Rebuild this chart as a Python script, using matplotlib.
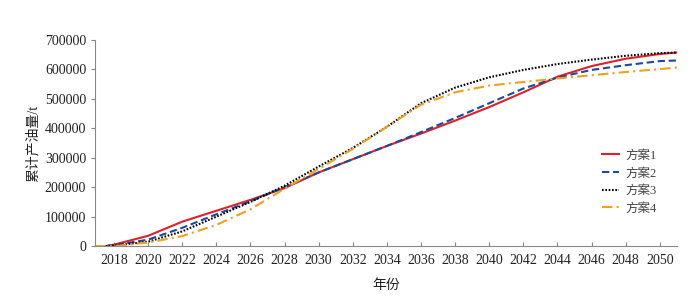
import matplotlib
matplotlib.use("Agg")
import matplotlib.pyplot as plt

plt.rcParams['font.family'] = ['Liberation Serif', 'Noto Sans CJK SC']
plt.rcParams['axes.unicode_minus'] = False

# Cumulative oil production per scheme
years = [2017.5, 2018, 2020, 2022, 2024, 2026, 2028, 2030, 2032, 2034,
         2036, 2038, 2040, 2042, 2044, 2046, 2048, 2050, 2051]
years_s4 = [2016.9, 2018, 2020, 2022, 2024, 2026, 2028, 2030, 2032, 2034,
            2036, 2038, 2040, 2042, 2044, 2046, 2048, 2050, 2051]

scheme1 = [0, 5000, 35000, 83000, 120000, 157000, 197000, 250000, 295000, 340000,
           382000, 426000, 472000, 522000, 575000, 611000, 636000, 652000, 657000]
scheme2 = [0, 3000, 22000, 62000, 108000, 152000, 200000, 250000, 295000, 340000,
           387000, 435000, 485000, 535000, 572000, 598000, 614000, 628000, 630000]
scheme3 = [0, 2000, 15000, 50000, 100000, 150000, 205000, 270000, 333000, 405000,
           485000, 538000, 573000, 598000, 618000, 633000, 646000, 655000, 657000]
scheme4 = [0, 0, 12000, 34000, 72000, 125000, 195000, 262000, 330000, 405000,
           480000, 522000, 545000, 557000, 569000, 580000, 591000, 601000, 606000]

labels = ["方案1", "方案2", "方案3", "方案4"]
xticks = list(range(2018, 2051, 2))

fig = plt.figure(figsize=(7, 3.02), dpi=100)
ax = fig.add_axes([0.136, 0.185, 0.831, 0.683])

ax.plot(years, scheme1, color="#e0202a", linestyle="-", linewidth=1.5, label=labels[0])
ax.plot(years, scheme2, color="#1a4a9a", linestyle=(0, (3.5, 1.8)), linewidth=1.5, label=labels[1])
ax.plot(years, scheme3, color="black", linestyle=(0, (0.8, 0.8)), linewidth=1.5, label=labels[2])
ax.plot(years_s4, scheme4, color="#f0a020", linestyle=(0, (5, 2, 1, 2)), linewidth=1.5, label=labels[3])

ax.set_xlim(2016.9, 2051)
ax.set_ylim(0, 700000)
ax.set_xticks(xticks)
ax.set_yticks(range(0, 700001, 100000))

for side in ["top", "right"]:
    ax.spines[side].set_visible(False)
for side in ["left", "bottom"]:
    ax.spines[side].set_color("#888888")
    ax.spines[side].set_linewidth(0.8)

ax.tick_params(axis="x", direction="in", length=3, color="#888888", labelsize=10,
               labelcolor="#222222", pad=6)
ax.tick_params(axis="y", direction="out", length=3, color="#888888", labelsize=10,
               labelcolor="#222222")

ax.set_xlabel("年份", fontsize=10, labelpad=8, color="#222222")
ax.set_ylabel("累计产油量/t", fontsize=10, labelpad=4, color="#222222")

leg = ax.legend(loc="center right", bbox_to_anchor=(0.985, 0.31), frameon=False,
                fontsize=9, handlelength=1.4, handletextpad=0.5, labelspacing=0.45)
for t in leg.get_texts():
    t.set_color("#444444")

fig.savefig("out.png", dpi=100)
